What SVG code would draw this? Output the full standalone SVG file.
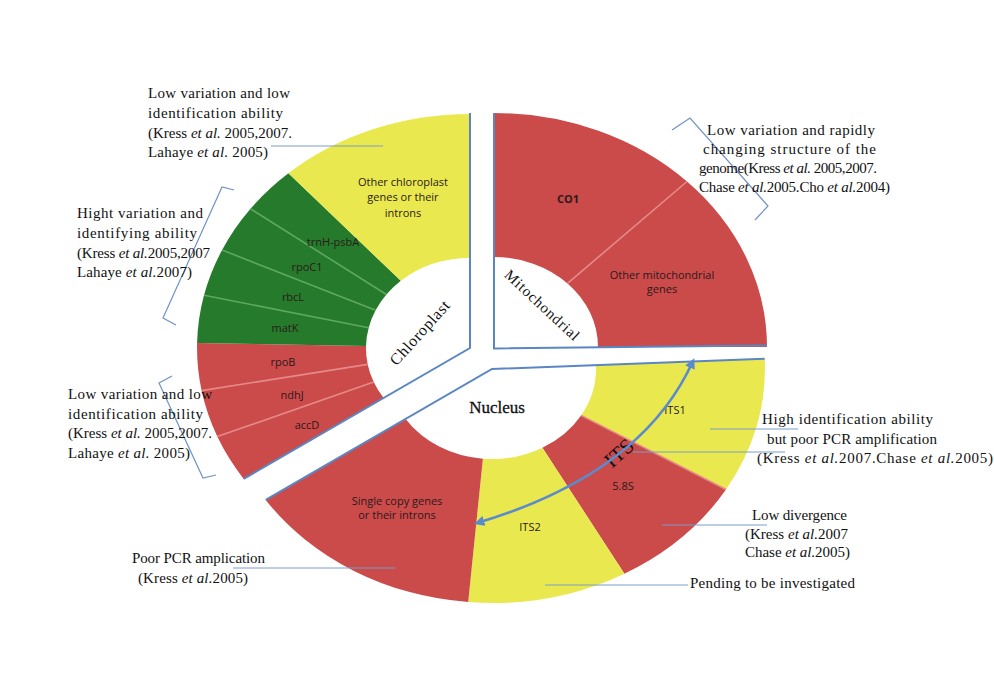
<svg xmlns="http://www.w3.org/2000/svg" width="994" height="681" viewBox="0 0 994 681">
<defs>
<style>
.red{fill:#CB4B4B}
.yel{fill:#E9E94F}
.grn{fill:#267A2C}
.sepR{stroke:#E58A88;stroke-width:1.6;fill:none}
.sepG{stroke:#5DA85F;stroke-width:1.6;fill:none}
.edge{fill:none;stroke:#5A86C4;stroke-width:2}
.lead{fill:none;stroke:#7A9CCB;stroke-width:1}
.brace{fill:none;stroke:#6F93C6;stroke-width:1.2}
.ann{font-family:"Liberation Serif",serif;font-size:15px;fill:#111}
.gene{font-family:"Open Sans","Liberation Sans",sans-serif;font-size:11px;fill:#2a1a1a;text-anchor:middle}
.hub{font-family:"Liberation Serif",serif;fill:#111;text-anchor:middle}
</style>
<marker id="ah" viewBox="0 0 10 10" refX="7" refY="5" markerWidth="4" markerHeight="4" orient="auto-start-reverse">
<path d="M0,0 L10,5 L0,10 z" fill="#5B8BCB"/>
</marker>
</defs>
<rect width="994" height="681" fill="#fff"/>

<g id="chloroplast">
<path id="accD" class="red" d="M243.7 478.9 A273 234 0 0 1 217.3 436.6 L373.7 382.1 A104 90 0 0 0 383.8 398.3 Z"/>
<path id="ndhJ" class="red" d="M217.3 436.6 A273 234 0 0 1 201.6 390.6 L367.7 364.4 A104 90 0 0 0 373.7 382.1 Z"/>
<path id="rpoB" class="red" d="M201.6 390.6 A273 234 0 0 1 197.1 342.9 L366.0 346.0 A104 90 0 0 0 367.7 364.4 Z"/>
<path id="matK" class="grn" d="M197.1 342.9 A273 234 0 0 1 204.0 295.3 L368.7 327.7 A104 90 0 0 0 366.0 346.0 Z"/>
<path id="rbcL" class="grn" d="M204.0 295.3 A273 234 0 0 1 222.1 250.0 L375.6 310.3 A104 90 0 0 0 368.7 327.7 Z"/>
<path id="rpoC1" class="grn" d="M222.1 250.0 A273 234 0 0 1 250.5 208.8 L386.4 294.5 A104 90 0 0 0 375.6 310.3 Z"/>
<path id="trnH" class="grn" d="M250.5 208.8 A273 234 0 0 1 288.4 173.3 L400.8 280.8 A104 90 0 0 0 386.4 294.5 Z"/>
<path id="otherChl" class="yel" d="M288.4 173.3 A273 234 0 0 1 470 114 L470 258 A104 90 0 0 0 400.8 280.8 Z"/>
<path class="sepR" d="M217.3 436.6 L373.7 382.1 M201.6 390.6 L367.7 364.4"/>
<path class="sepG" d="M204.0 295.3 L368.7 327.7 M222.1 250.0 L375.6 310.3 M250.5 208.8 L386.4 294.5"/>
<text class="gene" x="403" y="186" font-size="12">Other chloroplast</text>
<text class="gene" x="403" y="201" font-size="12">genes or their</text>
<text class="gene" x="403" y="217" font-size="12">introns</text>
<text class="gene" x="333" y="246" font-size="11.5">trnH-psbA</text>
<text class="gene" x="307" y="271" font-size="11.5">rpoC1</text>
<text class="gene" x="293" y="301" font-size="11.5">rbcL</text>
<text class="gene" x="285" y="332" font-size="11.5">matK</text>
<text class="gene" x="283" y="366" font-size="11.5">rpoB</text>
<text class="gene" x="292" y="399" font-size="11.5">ndhJ</text>
<text class="gene" x="307" y="429" font-size="11.5">accD</text>
<text class="hub" font-size="16" transform="translate(420 333) rotate(-48)" y="5" textLength="81">Chloroplast</text>
</g>

<g id="mitochondrial">
<path id="CO1" class="red" d="M494 113 A273 234 0 0 1 687.0 181.5 L567.5 283.4 A104 90 0 0 0 494 257 Z"/>
<path id="otherMito" class="red" d="M687.0 181.5 A273 234 0 0 1 767 347 L598 347 A104 90 0 0 0 567.5 283.4 Z"/>
<path class="sepR" d="M687.0 181.5 L567.5 283.4" stroke="#B84444"/>
<text class="gene" x="568" y="203" font-weight="bold">CO1</text>
<text class="gene" x="662" y="279">Other mitochondrial</text>
<text class="gene" x="662" y="293">genes</text>
<text class="hub" font-size="15" transform="translate(542 305) rotate(43)" y="5" textLength="96">Mitochondrial</text>
</g>

<g id="nucleus">
<path id="ITS1" class="yel" d="M764.7 358.8 A273 234 0 0 1 726.0 489.5 L581.1 415.4 A104 90 0 0 0 595.9 365.1 Z"/>
<path id="s58S" class="red" d="M726.0 489.5 A273 234 0 0 1 624.4 573.7 L542.4 447.7 A104 90 0 0 0 581.1 415.4 Z"/>
<path id="ITS2" class="yel" d="M624.4 573.7 A273 234 0 0 1 468.2 602.1 L482.9 458.7 A104 90 0 0 0 542.4 447.7 Z"/>
<path id="single" class="red" d="M468.2 602.1 A273 234 0 0 1 265.7 499.9 L405.8 419.3 A104 90 0 0 0 482.9 458.7 Z"/>
<path class="sepR" d="M726.0 489.5 L581.1 415.4"/>
<text class="gene" x="675" y="414" font-size="11.5">ITS1</text>
<text class="gene" x="623" y="490" font-size="11.5">5.8S</text>
<text class="gene" x="530" y="531" font-size="11.5">ITS2</text>
<text class="gene" x="397" y="505">Single copy genes</text>
<text class="gene" x="397" y="519">or their introns</text>
<text class="hub" font-size="17" x="497" y="413" stroke="#111" stroke-width="0.3">Nucleus</text>
<text class="hub" font-size="21" transform="translate(619 453) rotate(-42)" y="7">ITS</text>
</g>

<g id="connectors">
<path class="edge" d="M470 113 L470 348 L243.7 478.9"/>
<path class="edge" d="M494 113 L494 348.5 L767 345.5"/>
<path class="edge" d="M764.7 358.8 L492 369 L265.7 499.9"/>
<path d="M477 523 Q642 474 693 361" fill="none" stroke="#5B8BCB" stroke-width="2.6" marker-start="url(#ah)" marker-end="url(#ah)"/>
<path class="lead" d="M271 146 L383 146"/>
<path class="lead" d="M710 429 L798 429"/>
<path class="lead" d="M633 452 L785 452"/>
<path class="lead" d="M662 525 L767 525"/>
<path class="lead" d="M545 585 L688 585"/>
<path class="lead" d="M233 568 L395 568"/>
<path class="brace" d="M234 190 L222 187 L163 318 L176 325"/>
<path class="brace" d="M172 376 L159 383 L203 478 L216 475"/>
<path class="brace" d="M672 130 L690 118 L768 206 L755 220"/>
</g>

<g id="annotations">
<text class="ann" x="148" y="98" textLength="142">Low variation and low</text>
<text class="ann" x="148" y="118" textLength="135">identification ability</text>
<text class="ann" x="148" y="138" textLength="144">(Kress <tspan font-style="italic">et al.</tspan> 2005,2007.</text>
<text class="ann" x="148" y="157" textLength="120">Lahaye <tspan font-style="italic">et al.</tspan> 2005)</text>

<text class="ann" x="707" y="135" textLength="168">Low variation and rapidly</text>
<text class="ann" x="703" y="154" textLength="173">changing structure of the</text>
<text class="ann" x="699" y="173" textLength="178">genome(Kress <tspan font-style="italic">et al.</tspan> 2005,2007.</text>
<text class="ann" x="699" y="192" textLength="191">Chase <tspan font-style="italic">et al.</tspan>2005.Cho <tspan font-style="italic">et al.</tspan>2004)</text>

<text class="ann" x="77" y="218" textLength="126">Hight variation and</text>
<text class="ann" x="77" y="238" textLength="120">identifying ability</text>
<text class="ann" x="77" y="258" textLength="133">(Kress <tspan font-style="italic">et al.</tspan>2005,2007</text>
<text class="ann" x="77" y="277" textLength="115">Lahaye <tspan font-style="italic">et al.</tspan>2007)</text>

<text class="ann" x="68" y="399" textLength="144">Low variation and low</text>
<text class="ann" x="68" y="419" textLength="135">identification ability</text>
<text class="ann" x="68" y="438" textLength="144">(Kress <tspan font-style="italic">et al.</tspan> 2005,2007.</text>
<text class="ann" x="68" y="458" textLength="122">Lahaye <tspan font-style="italic">et al.</tspan> 2005)</text>

<text class="ann" x="762" y="424" textLength="171">High identification ability</text>
<text class="ann" x="767" y="444" textLength="170">but poor PCR amplification</text>
<text class="ann" x="757" y="463" textLength="236">(Kress <tspan font-style="italic">et al.</tspan>2007.Chase <tspan font-style="italic">et al.</tspan>2005)</text>

<text class="ann" x="752" y="520" textLength="95">Low divergence</text>
<text class="ann" x="745" y="539" textLength="103">(Kress <tspan font-style="italic">et al.</tspan>2007</text>
<text class="ann" x="745" y="557" textLength="105">Chase <tspan font-style="italic">et al.</tspan>2005)</text>

<text class="ann" x="690" y="588" textLength="165">Pending to be investigated</text>

<text class="ann" x="132" y="563" textLength="133">Poor PCR amplication</text>
<text class="ann" x="138" y="583" textLength="110">(Kress <tspan font-style="italic">et al.</tspan>2005)</text>
</g>
</svg>
